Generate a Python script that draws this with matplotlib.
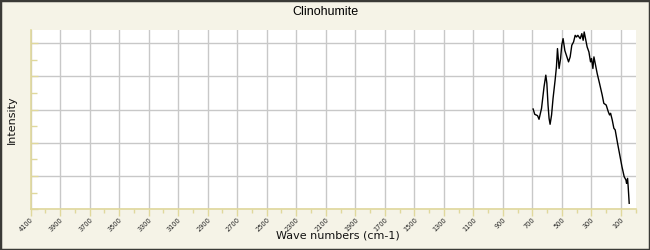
import matplotlib
matplotlib.use('Agg')
import matplotlib.pyplot as plt
from matplotlib.patches import Rectangle
import numpy as np

# spectrum (wave number, intensity in grid units)
wavenumbers = [695, 684, 665, 655, 638, 621, 609, 602, 594, 587, 580, 570, 560, 546,
               537, 530, 519, 509, 501, 492, 480, 469, 455, 444, 433, 421, 410, 401,
               392, 376, 365, 356, 349, 340, 329, 317, 306, 299, 290, 283, 272, 261,
               245, 227, 216, 200, 186, 177, 170, 159, 148, 139, 123, 112, 93, 78,
               66, 62, 55, 51, 44]
intensity = [3.02, 2.86, 2.82, 2.71, 3.04, 3.69, 4.04, 3.80, 3.14, 2.74, 2.56, 2.84, 3.34, 3.89,
             4.29, 4.84, 4.24, 4.54, 4.94, 5.14, 4.78, 4.63, 4.44, 4.59, 4.94, 5.04, 5.24, 5.19,
             5.24, 5.14, 5.29, 5.09, 5.34, 5.14, 4.89, 4.74, 4.44, 4.54, 4.24, 4.59, 4.34, 4.09,
             3.79, 3.44, 3.19, 3.14, 2.94, 2.84, 2.89, 2.69, 2.44, 2.39, 1.99, 1.73, 1.28, 0.98,
             0.88, 0.78, 0.93, 0.68, 0.18]

x_ticks = list(range(4100, 0, -200))
x_minor = list(range(4000, -1, -200))

bg = '#f5f3e7'
axis_col = '#e0d89c'
grid_col = '#c8c8c8'

fig = plt.figure(figsize=(6.5, 2.5), dpi=100, facecolor=bg)
ax = fig.add_axes([0.047, 0.163, 0.931, 0.717])
ax.set_facecolor('white')

ax.plot(wavenumbers, intensity, color='black', linewidth=1.0)

ax.set_xlim(4100, 0)
ax.set_ylim(0, 5.4)

ax.set_xticks(x_ticks)
ax.set_xticks(x_minor, minor=True)
ax.set_xticklabels([str(t) for t in x_ticks], rotation=45, ha='right', va='top',
                   rotation_mode='anchor', fontsize=4.8, color='#222222')
ax.set_yticks([0, 1, 2, 3, 4, 5])
ax.set_yticks([0.5, 1.5, 2.5, 3.5, 4.5], minor=True)
ax.set_yticklabels([])

ax.tick_params(axis='x', which='major', direction='out', length=5, width=1, color=axis_col, pad=0)
ax.tick_params(axis='x', which='minor', direction='out', length=3, width=1, color=axis_col)
ax.tick_params(axis='y', which='major', direction='in', length=5, width=1, color=axis_col)
ax.tick_params(axis='y', which='minor', direction='in', length=4, width=1, color=axis_col)

ax.grid(True, which='major', color=grid_col, linewidth=1)
ax.set_axisbelow(True)

for s in ['top', 'right']:
    ax.spines[s].set_visible(False)
for s in ['left', 'bottom']:
    ax.spines[s].set_color(axis_col)
    ax.spines[s].set_linewidth(1.2)

fig.text(0.5, 0.952, 'Clinohumite', ha='center', va='center', fontsize=9,
         family='Liberation Sans', color='black')
fig.text(0.52, 0.058, 'Wave numbers (cm-1)', ha='center', va='center', fontsize=8, color='#111111')
fig.text(0.019, 0.52, 'Intensity', ha='center', va='center', rotation=90, fontsize=8, color='#111111')

fig.patches.append(Rectangle((0, 0), 1, 1, transform=fig.transFigure, fill=False,
                             edgecolor='#3a3a36', linewidth=2.5))

fig.savefig('out.png', dpi=100, facecolor=bg)
